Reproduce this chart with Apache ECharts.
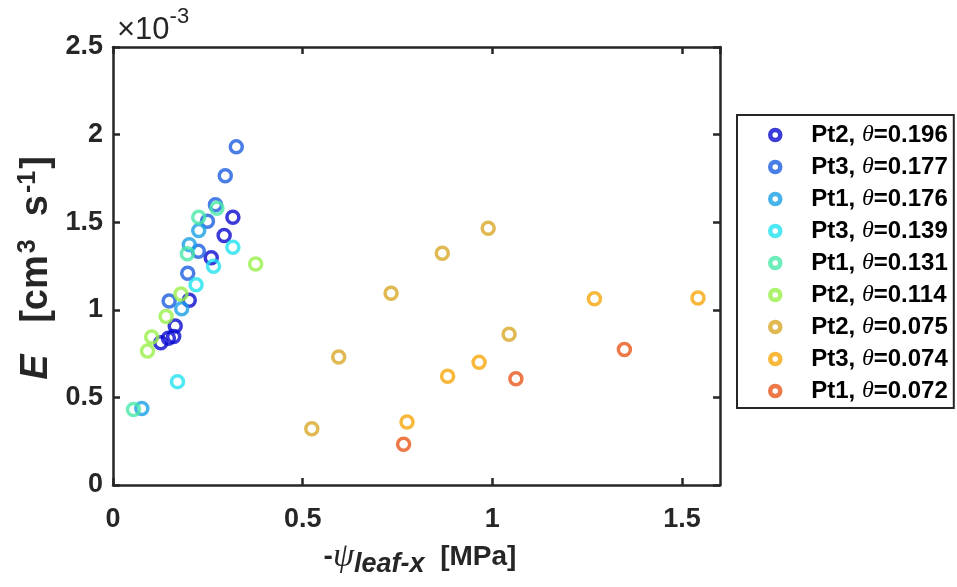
<!DOCTYPE html>
<html>
<head>
<meta charset="utf-8">
<script src="https://cdn.jsdelivr.net/npm/echarts@6/dist/echarts.min.js"></script>
<style>html,body{margin:0;padding:0;background:#fff}#c{width:957px;height:587px}</style>
</head>
<body>
<div id="c"></div>
<script>
// x: -psi_leaf-x [MPa]; y: E [1e-3 cm^3 s^-1]
const pt2_196 = [[0.316,1.528],[0.293,1.424],[0.259,1.297],[0.201,1.055],[0.164,0.908],[0.160,0.848],[0.146,0.838],[0.126,0.812]];
const pt3_177 = [[0.325,1.930],[0.296,1.765],[0.270,1.600],[0.249,1.505],[0.225,1.334],[0.197,1.209],[0.148,1.050]];
const pt1_176 = [[0.226,1.452],[0.201,1.372],[0.181,1.006],[0.076,0.437]];
const pt3_139 = [[0.316,1.357],[0.265,1.249],[0.219,1.143],[0.170,0.590]];
const pt1_131 = [[0.274,1.580],[0.226,1.528],[0.196,1.320],[0.054,0.431]];
const pt2_114 = [[0.376,1.262],[0.179,1.090],[0.140,0.962],[0.102,0.845],[0.091,0.765]];
const pt2_075 = [[0.989,1.465],[0.868,1.323],[0.733,1.095],[1.044,0.860],[0.595,0.731],[0.524,0.321]];
const pt3_074 = [[0.965,0.700],[0.882,0.621],[0.775,0.359],[1.269,1.063],[1.542,1.067]];
const pt1_072 = [[1.062,0.607],[0.766,0.233],[1.348,0.773]];

const seriesNames = ['Pt2, θ=0.196','Pt3, θ=0.177','Pt1, θ=0.176','Pt3, θ=0.139','Pt1, θ=0.131','Pt2, θ=0.114','Pt2, θ=0.075','Pt3, θ=0.074','Pt1, θ=0.072'];
const seriesData = [pt2_196, pt3_177, pt1_176, pt3_139, pt1_131, pt2_114, pt2_075, pt3_074, pt1_072];
const seriesColors = ['#0a0ad0','#1a5ee0','#1aa0e6','#22e2f0','#48e8a8','#98f048','#d8a828','#f5a60a','#e8561a'];

const xTicks = {min: 0, max: 1.6, interval: 0.5};
const yTicks = {min: 0, max: 2.5, interval: 0.5};

const axisColor = '#262626';
const font = 'Liberation Sans, Arial, sans-serif';

function mkAxis(t, pos, showLabel) {
  return {
    type: 'value', position: pos, min: t.min, max: t.max, interval: t.interval,
    axisLine: {show: true, onZero: false, lineStyle: {color: axisColor, width: 2.5}},
    axisTick: {show: true, inside: true, length: 7, lineStyle: {color: axisColor, width: 2.5}},
    splitLine: {show: false},
    axisLabel: {show: showLabel, fontSize: 27, fontWeight: 'bold', color: axisColor, fontFamily: font,
      margin: pos === 'bottom' ? 21 : 10, showMaxLabel: pos === 'left'}
  };
}

const chart = echarts.init(document.getElementById('c'), null, {renderer: 'canvas'});
chart.setOption({
  animation: false,
  backgroundColor: '#fff',
  grid: {left: 113, right: 237, top: 47, bottom: 102, containLabel: false},
  xAxis: [mkAxis(xTicks, 'bottom', true), mkAxis(xTicks, 'top', false)],
  yAxis: [mkAxis(yTicks, 'left', true), mkAxis(yTicks, 'right', false)],
  legend: {
    orient: 'vertical', left: 737, top: 115,
    padding: [8, 6, 5, 31], itemGap: 8, itemWidth: 10, itemHeight: 10,
    borderColor: axisColor, borderWidth: 2, backgroundColor: '#fff',
    selectedMode: false,
    itemStyle: {borderWidth: 4.5},
    textStyle: {fontSize: 24, fontWeight: 'bold', color: '#000', fontFamily: font, lineHeight: 24, padding: [0,0,0,26],
      rich: {
        b: {fontSize: 24, fontWeight: 'bold', color: '#000', fontFamily: font, lineHeight: 24},
        t: {fontSize: 24, fontStyle: 'italic', fontWeight: 'normal', color: '#000', fontFamily: 'Liberation Serif, serif', lineHeight: 24}
      }},
    formatter: function (name) {
      const p = name.split('θ');
      return '{b|' + p[0] + '}{t|θ}{b|' + p[1] + '}';
    },
    data: seriesNames
  },
  series: seriesNames.map((n, i) => ({
    name: n, type: 'scatter', xAxisIndex: 0, yAxisIndex: 0,
    data: seriesData[i], symbol: 'circle', symbolSize: 12,
    itemStyle: {color: 'rgba(255,255,255,0)', borderColor: seriesColors[i], borderWidth: 3.5},
    emphasis: {disabled: true}
  })),
  graphic: [
    {type: 'text', left: 117, top: 6, style: {
      text: '{a|×10}{s|-3}', rich: {
        a: {fontSize: 31, fontFamily: font, fill: axisColor, lineHeight: 40, verticalAlign: 'bottom'},
        s: {fontSize: 22, fontFamily: font, fill: axisColor, verticalAlign: 'top', lineHeight: 40}
      }}},
    {type: 'text', x: 37, y: 268, rotation: Math.PI / 2, style: {
      text: '{e|E}{n|   [cm}{s|3}{n|  s}{s|-1}{n|]}', align: 'center', verticalAlign: 'middle',
      rich: {
        e: {fontSize: 38, fontWeight: 'bold', fontStyle: 'italic', fontFamily: font, fill: axisColor, lineHeight: 42},
        n: {fontSize: 38, fontWeight: 'bold', fontFamily: font, fill: axisColor, lineHeight: 42},
        s: {fontSize: 25, fontWeight: 'bold', fontFamily: font, fill: axisColor, verticalAlign: 'top', lineHeight: 42, padding: [0, 2, 0, 2]}
      }}},
    {type: 'text', x: 420, y: 557, style: {
      text: '{n|-}{p|ψ}{sub|leaf-x}{n|  [MPa]}', align: 'center', verticalAlign: 'middle',
      rich: {
        n: {fontSize: 28, fontWeight: 'bold', fontFamily: font, fill: axisColor, lineHeight: 42},
        p: {fontSize: 34, fontStyle: 'italic', fontFamily: 'Liberation Serif, serif', fill: axisColor, lineHeight: 42},
        sub: {fontSize: 27, fontWeight: 'bold', fontStyle: 'italic', fontFamily: font, fill: axisColor, verticalAlign: 'bottom', lineHeight: 42}
      }}}
  ]
});
</script>
</body>
</html>
